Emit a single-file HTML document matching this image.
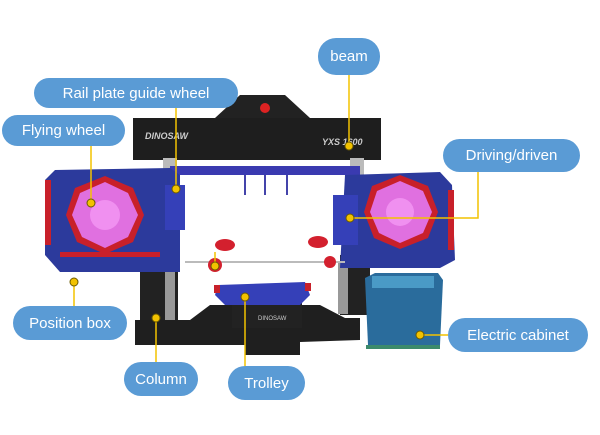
<!DOCTYPE html>
<html><head><meta charset="utf-8"><style>
html,body{margin:0;padding:0;background:#fff;width:600px;height:435px;overflow:hidden}
.l{position:absolute;background:#5a9bd5;color:#fff;border-radius:18px;font-family:"Liberation Sans",sans-serif;font-size:15px;display:flex;align-items:center;justify-content:center}
</style></head><body>
<svg width="600" height="435" style="position:absolute;left:0;top:0">
<polygon points="215,118 240,95 285,95 310,118" fill="#222"/>
<rect x="133" y="118" width="248" height="42" fill="#1e1e1e"/>
<circle cx="265" cy="108" r="5" fill="#d22"/>
<text x="145" y="139" font-family="Liberation Sans" font-size="9" font-style="italic" font-weight="bold" fill="#ccc">DINOSAW</text>
<text x="322" y="145" font-family="Liberation Sans" font-size="9" font-style="italic" font-weight="bold" fill="#ccc">YXS 1600</text>
<rect x="163" y="158" width="14" height="113" fill="#bbb"/>
<rect x="350" y="158" width="14" height="113" fill="#bbb"/>
<rect x="170" y="166" width="190" height="9" fill="#3a3ab0"/>
<line x1="245" y1="175" x2="245" y2="195" stroke="#4444aa" stroke-width="2"/>
<line x1="265" y1="175" x2="265" y2="195" stroke="#4444aa" stroke-width="2"/>
<line x1="287" y1="175" x2="287" y2="195" stroke="#4444aa" stroke-width="2"/>
<rect x="140" y="265" width="38" height="75" fill="#222"/>
<rect x="165" y="265" width="10" height="65" fill="#999"/>
<rect x="340" y="255" width="30" height="60" fill="#222"/>
<rect x="338" y="262" width="10" height="52" fill="#999"/>
<polygon points="135,320 190,320 210,305 320,305 345,318 360,318 360,340 300,342 300,355 245,355 245,345 135,345" fill="#1f1f1f"/>
<polygon points="55,170 170,168 180,175 180,272 60,272 45,255 45,180" fill="#2c3a9c"/>
<polygon points="75,188 105,176 133,188 144,215 133,242 105,254 77,242 66,215" fill="#c8202a"/>
<polygon points="80,193 105,182 128,193 138,215 128,237 105,248 82,237 72,215" fill="#e070e0"/>
<circle cx="105" cy="215" r="15" fill="#f090f0"/>
<rect x="45" y="180" width="6" height="65" fill="#c8202a"/>
<rect x="60" y="252" width="100" height="5" fill="#c8202a"/>
<rect x="165" y="185" width="20" height="45" fill="#3540b8"/>
<polygon points="345,175 440,172 452,185 455,260 440,268 340,268" fill="#2c3a9c"/>
<polygon points="372,186 400,175 428,186 438,212 428,238 400,249 374,238 364,212" fill="#c8202a"/>
<polygon points="377,191 400,181 423,191 432,212 423,233 400,243 379,233 370,212" fill="#e070e0"/>
<circle cx="400" cy="212" r="14" fill="#f090f0"/>
<rect x="448" y="190" width="6" height="60" fill="#c8202a"/>
<rect x="333" y="195" width="25" height="50" fill="#3540b8"/>
<line x1="185" y1="262" x2="345" y2="262" stroke="#bbb" stroke-width="2"/>
<ellipse cx="225" cy="245" rx="10" ry="6" fill="#d3202e"/>
<circle cx="215" cy="265" r="7" fill="#d3202e"/>
<ellipse cx="318" cy="242" rx="10" ry="6" fill="#d3202e"/>
<circle cx="330" cy="262" r="6" fill="#d3202e"/>
<rect x="232" y="300" width="70" height="28" fill="#222"/>
<polygon points="218,285 305,282 310,295 300,305 225,305 215,295" fill="#3540b8"/>
<rect x="214" y="285" width="6" height="8" fill="#c8202a"/>
<rect x="305" y="283" width="6" height="8" fill="#c8202a"/>
<text x="258" y="320" font-family="Liberation Sans" font-size="6" fill="#ccc">DINOSAW</text>
<polygon points="365,278 375,273 438,273 443,280 440,345 368,345" fill="#2a6c9c"/>
<rect x="372" y="276" width="62" height="12" fill="#4a9ac6"/>
<rect x="366" y="345" width="74" height="4" fill="#3b8a6c"/>
<g stroke="#f2c200" stroke-width="1.5" fill="none">
<line x1="349" y1="75" x2="349" y2="144"/>
<line x1="176" y1="107" x2="176" y2="187"/>
<line x1="91" y1="146" x2="91" y2="203"/>
<polyline points="478,172 478,218 350,218"/>
<line x1="74" y1="282" x2="74" y2="306"/>
<line x1="156" y1="318" x2="156" y2="362"/>
<line x1="245" y1="297" x2="245" y2="366"/>
<line x1="420" y1="335" x2="448" y2="335"/>
<line x1="215" y1="252" x2="215" y2="265"/>
</g>
<g fill="#f2c200" stroke="#6b5a00" stroke-width="1">
<circle cx="349" cy="146" r="4"/><circle cx="176" cy="189" r="4"/><circle cx="91" cy="203" r="4"/>
<circle cx="350" cy="218" r="4"/><circle cx="74" cy="282" r="4"/><circle cx="156" cy="318" r="4"/>
<circle cx="245" cy="297" r="4"/><circle cx="420" cy="335" r="4"/><circle cx="215" cy="266" r="4"/>
</g>
</svg>
<div class="l" style="left:318px;top:38px;width:62px;height:37px">beam</div>
<div class="l" style="left:34px;top:78px;width:204px;height:30px">Rail plate guide wheel</div>
<div class="l" style="left:2px;top:115px;width:123px;height:31px">Flying wheel</div>
<div class="l" style="left:443px;top:139px;width:137px;height:33px">Driving/driven</div>
<div class="l" style="left:13px;top:306px;width:114px;height:34px">Position box</div>
<div class="l" style="left:124px;top:362px;width:74px;height:34px">Column</div>
<div class="l" style="left:228px;top:366px;width:77px;height:34px">Trolley</div>
<div class="l" style="left:448px;top:318px;width:140px;height:34px">Electric cabinet</div>
</body></html>
